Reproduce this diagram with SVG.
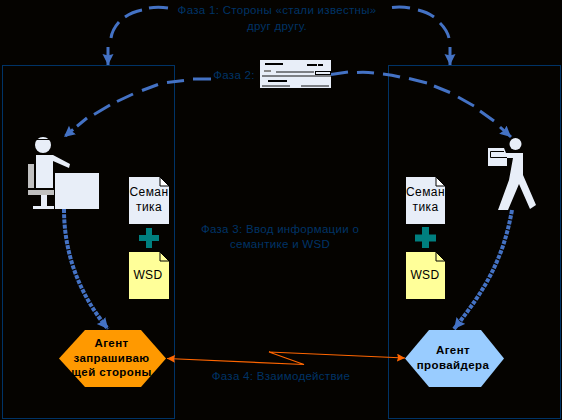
<svg xmlns="http://www.w3.org/2000/svg" width="562" height="420" viewBox="0 0 562 420">
<style>
.t{font-family:"Liberation Sans",Arial,sans-serif;font-size:11.5px;fill:#003366;text-anchor:middle;letter-spacing:.3px}
.d{font-family:"Liberation Sans",Arial,sans-serif;font-size:12px;fill:#000;text-anchor:middle;letter-spacing:.4px}
.a{font-family:"Liberation Sans",Arial,sans-serif;font-size:11.5px;font-weight:bold;fill:#000;text-anchor:middle;letter-spacing:.4px}
.box{fill:none;stroke:#003366;stroke-width:1}
.fold{fill:#fff;stroke:#000;stroke-width:1}
.dash{fill:none;stroke:#4472c4;stroke-width:3}
.dot{fill:none;stroke:#4472c4;stroke-width:4;stroke-dasharray:4 1.2;marker-end:url(#b)}
.fig{fill:#e8eef8}
</style>
<defs>
<marker id="b" markerUnits="userSpaceOnUse" markerWidth="13" markerHeight="13" refX="11" refY="5.5" orient="auto"><path d="M0 0L11 5.5L0 11L1.500 5.500Z" fill="#4472c4"/></marker>
<marker id="o" markerUnits="userSpaceOnUse" markerWidth="10" markerHeight="10" refX="8" refY="4" orient="auto-start-reverse"><path d="M0 0L8 4L0 8L1 4Z" fill="#ff6600"/></marker>
</defs>
<rect width="562" height="420" fill="#050300"/>
<rect id="left-box" class="box" x="2.500" y="65.500" width="172" height="353"/>
<rect id="right-box" class="box" x="388.500" y="65.500" width="172" height="353"/>
<g id="connectors">
<path class="dash" d="M168 8Q158 6.500 149 8M142 10Q132 12 125 17M119 22Q112 30 111 38"/>
<path class="dash" d="M108 47V65" marker-end="url(#b)"/>
<path class="dash" d="M392 7.500Q401 6.500 410 8M418 10Q427 12 434 17M440 23Q447 30 449 38"/>
<path class="dash" d="M450 47V65" marker-end="url(#b)"/>
<path class="dash" d="M211 79H193M184 80.500L167 82.500M158 84.500L142 90.500M133 94L117 101.500M110 105L94 114.500"/>
<path class="dash" d="M87 118L64 137" stroke-dasharray="13 5 10" marker-end="url(#b)"/>
<path class="dash" d="M331 74.500L348 72M357 72.500Q366 72 374 73M383 74Q392 75 400 77M409 78.500L427 83M434 86L450 92.500M458 97L474 106M480 111L494 121"/>
<path class="dash" d="M500 127L511 137" marker-end="url(#b)"/>
<path class="dot" d="M64 209C64 255 80 295 108 329"/>
<path class="dot" d="M512 210C503 260 485 290 454 329"/>
<polyline points="167,358.500 304,364.500 269,352 405,358" fill="none" stroke="#ff6600" stroke-width="1.200" marker-start="url(#o)" marker-end="url(#o)"/>
</g>
<g id="cheque">
<rect class="fig" x="260" y="60" width="71" height="28"/>
<path d="M265 64h18M307 65h10M318 65h5M268 81h19" stroke="#000" stroke-width="2"/>
<path d="M264 71h7" stroke="#888" stroke-width="2"/>
<path d="M276 72h38M262 76h69M262 86h28M301 86h28" stroke="#111" stroke-width="1"/>
<rect x="315.500" y="71.500" width="15" height="3" fill="none" stroke="#000"/>
</g>
<g id="client">
<circle class="fig" cx="43" cy="145" r="8"/>
<path d="M36 139.500h14" stroke="#050300" stroke-width="1"/>
<path class="fig" d="M36 155H53L70 164L69 168L53 161V188H36Z"/>
<path d="M28 164H34V188H28ZM28 190H54V195H28Z" fill="#c0c0c0"/>
<path class="fig" d="M41 195H47V206H54V209H33V206H41Z"/>
<rect class="fig" x="55" y="173" width="44" height="36"/>
</g>
<g id="provider">
<circle class="fig" cx="515.500" cy="144" r="6"/>
<path class="fig" d="M488 148H504L506 153H523V175L536 205L530 209L519 184L508 210H498L509 180L513 158H507V166H488Z"/>
<path d="M490.500 157.500V151.500H504M490.500 157.500H507" fill="none" stroke="#050300" stroke-width="1"/>
</g>
<g id="doc-sem-l">
<path class="fig" d="M129 177H160L169 186V224H129Z"/>
<path class="fold" d="M160 177V186H169Z"/>
<text class="d" x="149" y="196">Семан</text><text class="d" x="149" y="211">тика</text>
</g>
<g id="plus-l"><path d="M146 228h6v7h7v6h-7v7h-6v-7h-7v-6h7z" fill="#007f7f"/></g>
<g id="doc-wsd-l">
<path d="M129 252H160L169 261V299H129Z" fill="#ffff99"/>
<path class="fold" d="M160 252V261H169Z" style="fill:#ffff99"/>
<text class="d" x="148" y="279">WSD</text>
</g>
<g id="doc-sem-r">
<path class="fig" d="M406 177H436L445 186V224H406Z"/>
<path class="fold" d="M436 177V186H445Z"/>
<text class="d" x="425.500" y="196">Семан</text><text class="d" x="425.500" y="211">тика</text>
</g>
<g id="plus-r"><path d="M422 227h7v7.500h7v7h-7v6.500h-7v-6.500h-7v-7h7z" fill="#007f7f"/></g>
<g id="doc-wsd-r">
<path d="M406 252H436L445 261V299H406Z" fill="#ffff99"/>
<path class="fold" d="M436 252V261H445Z" style="fill:#ffff99"/>
<text class="d" x="425" y="279">WSD</text>
</g>
<g id="agent-req">
<polygon points="59,358.500 85,330 141,330 166,358.500 141,387 85,387" fill="#ff9900"/>
<text class="a" x="111.500" y="347">Агент</text><text class="a" x="111.500" y="362">запрашиваю</text><text class="a" x="111.500" y="376">щей стороны</text>
</g>
<g id="agent-prov">
<polygon points="405,358.500 429,330 481,330 504,358.500 481,387 429,387" fill="#99ccff"/>
<text class="a" x="453" y="354">Агент</text><text class="a" x="453" y="369">провайдера</text>
</g>
<g id="labels">
<text class="t" x="277" y="14">Фаза 1: Стороны «стали известны»</text>
<text class="t" x="277" y="30">друг другу.</text>
<text class="t" x="234" y="79">Фаза 2:</text>
<text class="t" x="280" y="233">Фаза 3: Ввод информации о</text>
<text class="t" x="280" y="248">семантике и WSD</text>
<text class="t" x="281" y="380">Фаза 4: Взаимодействие</text>
</g>
</svg>
